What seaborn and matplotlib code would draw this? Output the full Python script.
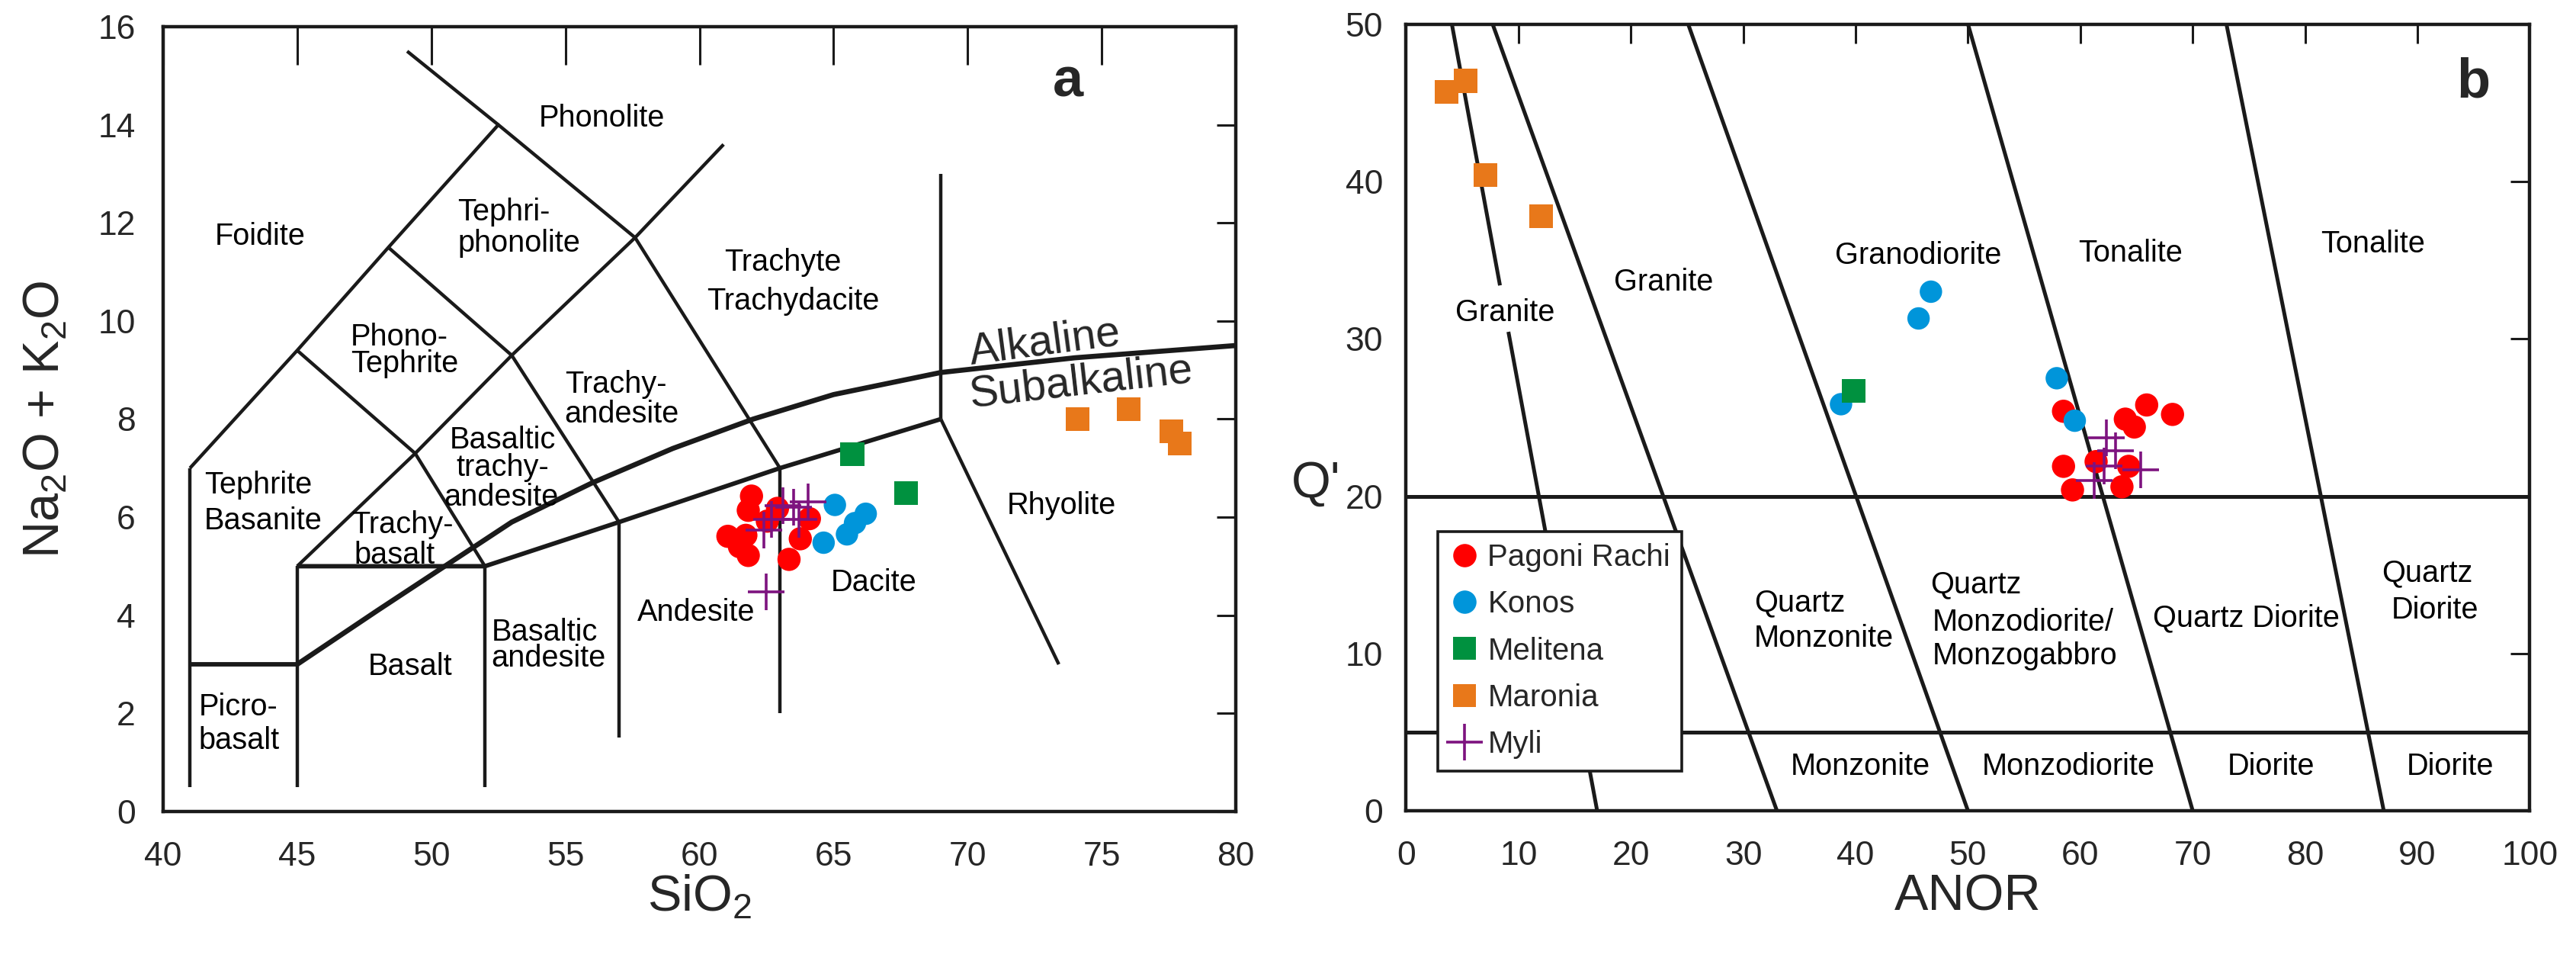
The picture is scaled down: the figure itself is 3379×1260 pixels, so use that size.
import matplotlib
matplotlib.use("Agg")
import matplotlib.pyplot as plt
import matplotlib.transforms as mtransforms
import pandas as pd
import seaborn as sns

sns.set_style("white")
plt.rcParams['font.family'] = ['Liberation Sans', 'DejaVu Sans']
plt.rcParams['mathtext.fontset'] = 'custom'
plt.rcParams['mathtext.rm'] = 'Liberation Sans'
plt.rcParams['mathtext.it'] = 'Liberation Sans:italic'

LINE = '#1a1a1a'

# ---- sample groups ----
groups = ['Pagoni Rachi', 'Konos', 'Melitena', 'Maronia', 'Myli']
colors = {'Pagoni Rachi': '#ff0000', 'Konos': '#0095da', 'Melitena': '#00913f',
          'Maronia': '#e8781a', 'Myli': '#7d137f'}
markers = {'Pagoni Rachi': 'o', 'Konos': 'o', 'Melitena': 's', 'Maronia': 's', 'Myli': '+'}
sizes = {'Pagoni Rachi': 120, 'Konos': 112, 'Melitena': 125, 'Maronia': 125, 'Myli': 290}

# ---- panel a: TAS data (SiO2 vs Na2O+K2O) ----
pagoni_sio2 = [61.94, 61.82, 62.91, 64.10, 61.06, 61.73, 61.82, 63.76, 63.34, 62.53, 61.49]
pagoni_alk = [6.43, 6.14, 6.18, 5.97, 5.61, 5.63, 5.22, 5.56, 5.14, 5.92, 5.40]
konos_sio2 = [65.05, 66.20, 65.80, 65.50, 64.63]
konos_alk = [6.25, 6.07, 5.88, 5.65, 5.48]
melitena_sio2 = [65.70, 67.70]
melitena_alk = [7.28, 6.49]
maronia_sio2 = [74.10, 76.00, 77.60, 77.90]
maronia_alk = [8.00, 8.20, 7.75, 7.50]
myli_sio2 = [62.50, 62.40, 62.70, 63.10, 63.50, 63.70, 64.05]
myli_alk = [4.48, 5.74, 5.95, 6.23, 6.21, 5.95, 6.31]

# ---- panel b: Q' vs ANOR data ----
pagoni_anor = [65.9, 68.2, 64.0, 64.8, 58.5, 58.5, 59.3, 61.4, 64.3, 63.7]
pagoni_q = [25.8, 25.2, 24.9, 24.4, 25.4, 21.9, 20.4, 22.2, 21.9, 20.6]
konos_anor = [46.7, 45.6, 38.7, 57.9, 59.5]
konos_q = [33.0, 31.3, 25.85, 27.5, 24.8]
melitena_anor = [39.8]
melitena_q = [26.7]
maronia_anor = [3.6, 5.3, 7.05, 12.0]
maronia_q = [45.7, 46.4, 40.4, 37.8]
myli_anor = [62.3, 63.1, 62.1, 65.35, 61.2]
myli_q = [23.7, 22.9, 21.9, 21.7, 21.0]

tas = pd.concat([
    pd.DataFrame({'x': pagoni_sio2, 'y': pagoni_alk, 'group': 'Pagoni Rachi'}),
    pd.DataFrame({'x': konos_sio2, 'y': konos_alk, 'group': 'Konos'}),
    pd.DataFrame({'x': melitena_sio2, 'y': melitena_alk, 'group': 'Melitena'}),
    pd.DataFrame({'x': maronia_sio2, 'y': maronia_alk, 'group': 'Maronia'}),
    pd.DataFrame({'x': myli_sio2, 'y': myli_alk, 'group': 'Myli'}),
])
qanor = pd.concat([
    pd.DataFrame({'x': pagoni_anor, 'y': pagoni_q, 'group': 'Pagoni Rachi'}),
    pd.DataFrame({'x': konos_anor, 'y': konos_q, 'group': 'Konos'}),
    pd.DataFrame({'x': melitena_anor, 'y': melitena_q, 'group': 'Melitena'}),
    pd.DataFrame({'x': maronia_anor, 'y': maronia_q, 'group': 'Maronia'}),
    pd.DataFrame({'x': myli_anor, 'y': myli_q, 'group': 'Myli'}),
])

# ---- TAS field boundaries (Le Bas et al.) ----
tas_lines = [
    [(41, 0.5), (41, 7)],
    [(45, 0.5), (45, 5)],
    [(52, 0.5), (52, 5)],
    [(57, 1.5), (57, 5.9)],
    [(63, 2.0), (63, 7)],
    [(69, 8), (69, 13)],
    [(69, 8), (73.4, 3.0)],
    [(41, 7), (45, 9.4), (48.4, 11.5), (52.5, 14), (57.6, 11.7), (63, 7)],
    [(49.1, 15.5), (52.5, 14)],
    [(57.6, 11.7), (60.9, 13.6)],
    [(45, 9.4), (49.4, 7.3), (52, 5)],
    [(48.4, 11.5), (53, 9.3), (57, 5.9)],
    [(45, 5), (49.4, 7.3), (53, 9.3), (57.6, 11.7)],
]
tas_thick = [
    [(41, 3), (45, 3)],
    [(45, 5), (52, 5), (57, 5.9), (63, 7), (69, 8)],
]
# Irvine & Baragar alkaline / subalkaline divide
ib_sio2 = [45, 48, 50.5, 53, 56, 59, 62, 65, 69, 74, 80]
ib_alk = [3.0, 4.1, 5.0, 5.9, 6.7, 7.4, 8.0, 8.5, 8.95, 9.25, 9.5]

# ---- Q'-ANOR field boundaries ----
qa_lines = [
    [(4.07, 50), (8.35, 33.4)],
    [(9.1, 30.45), (17, 0)],
    [(7.7, 50), (33, 0)],
    [(25.1, 50), (50, 0)],
    [(50, 50), (70, 0)],
    [(73, 50), (87, 0)],
]
qa_hlines = [20, 5]

tas_labels = [
    ("Phonolite", 56.35, 14.19), ("Foidite", 43.61, 11.78),
    ("Tephri-", 52.7, 12.27), ("phonolite", 53.28, 11.64),
    ("Phono-", 48.81, 9.72), ("Tephrite", 49.01, 9.17),
    ("Trachyte", 63.11, 11.24), ("Trachydacite", 63.48, 10.45),
    ("Trachy-", 56.89, 8.76), ("andesite", 57.09, 8.15),
    ("Basaltic", 52.67, 7.62), ("trachy-", 52.67, 7.07), ("andesite", 52.61, 6.46),
    ("Tephrite", 43.54, 6.71), ("Basanite", 43.73, 5.98),
    ("Trachy-", 48.93, 5.9), ("basalt", 48.62, 5.27),
    ("Basalt", 49.2, 3.0), ("Basaltic", 54.22, 3.7), ("andesite", 54.38, 3.17),
    ("Andesite", 59.87, 4.11), ("Dacite", 66.49, 4.72), ("Rhyolite", 73.51, 6.28),
    ("Picro-", 42.81, 2.18), ("basalt", 42.83, 1.5),
]
qa_labels = [
    ("Granite", 8.83, 31.82), ("Granite", 22.93, 33.76),
    ("Granodiorite", 45.57, 35.46), ("Tonalite", 64.49, 35.62), ("Tonalite", 86.0, 36.2),
    ("Quartz", 35.05, 13.4), ("Monzonite", 37.15, 11.14),
    ("Quartz", 50.7, 14.54), ("Monzodiorite/", 54.87, 12.16), ("Monzogabbro", 55.05, 10.01),
    ("Quartz Diorite", 74.73, 12.43),
    ("Quartz", 90.87, 15.26), ("Diorite", 91.55, 12.92),
    ("Monzonite", 40.45, 2.98), ("Monzodiorite", 58.97, 2.98),
    ("Diorite", 77.0, 2.98), ("Diorite", 92.9, 2.98),
]

LABEL_FS = 14.3
TICK_FS = 16
AXLABEL_FS = 24

fig, (ax1, ax2) = plt.subplots(1, 2, figsize=(16.9, 6.3), dpi=200)
ax1.set_position([0.0633, 0.1556, 0.4163, 0.8166])
ax2.set_position([0.5457, 0.1562, 0.4361, 0.8186])


def draw_points(ax, df):
    for g in groups:
        sub = df[df['group'] == g]
        kw = dict(data=sub, x='x', y='y', ax=ax, marker=markers[g], color=colors[g],
                  s=sizes[g], label=g, zorder=4 if g == 'Myli' else 3, legend=False)
        if markers[g] == '+':
            kw['linewidth'] = 1.3
        else:
            kw['edgecolor'] = 'none'
        sns.scatterplot(**kw)


def draw_labels(ax, labels):
    # place the centre of the capitals at the given data position
    tr = mtransforms.offset_copy(ax.transData, fig=fig, y=-0.358 * LABEL_FS, units='points')
    for txt, x, y in labels:
        ax.text(x, y, txt, transform=tr, fontsize=LABEL_FS, ha='center', va='baseline',
                color='black', zorder=5)


# ---------------- panel a ----------------
for seg in tas_lines:
    xs, ys = zip(*seg)
    ax1.plot(xs, ys, color=LINE, lw=1.6, zorder=2, solid_capstyle='butt')
for seg in tas_thick:
    xs, ys = zip(*seg)
    ax1.plot(xs, ys, color=LINE, lw=2.1, zorder=2, solid_capstyle='butt')
ax1.plot(ib_sio2, ib_alk, color=LINE, lw=2.4, zorder=2)
draw_points(ax1, tas)
draw_labels(ax1, tas_labels)
ax1.text(72.88, 9.55, "Alkaline", fontsize=20.5, rotation=7.5, ha='center', va='center',
         rotation_mode='anchor', zorder=5)
ax1.text(74.24, 8.74, "Subalkaline", fontsize=20.5, rotation=6.5, ha='center', va='center',
         rotation_mode='anchor', zorder=5)
ax1.text(73.75, 14.87, "a", fontsize=26, fontweight='bold', ha='center', va='center')

ax1.set_xlim(40, 80)
ax1.set_ylim(0, 16)
ax1.set_xticks(range(40, 81, 5))
ax1.set_yticks(range(0, 17, 2))
ax1.tick_params(axis='both', direction='in', top=True, right=True, color=LINE,
                labelsize=TICK_FS, width=1.1)
ax1.tick_params(axis='x', length=18, pad=14)
ax1.tick_params(axis='y', length=9, pad=13)
ax1.set_xlabel('SiO$_\\mathregular{2}$', fontsize=AXLABEL_FS, va='center')
ax1.xaxis.set_label_coords(0.5, -0.11)
ax1.set_ylabel('Na$_\\mathregular{2}$O + K$_\\mathregular{2}$O', fontsize=AXLABEL_FS, va='center')
ax1.yaxis.set_label_coords(-0.109, 0.5)

# ---------------- panel b ----------------
for seg in qa_lines:
    xs, ys = zip(*seg)
    ax2.plot(xs, ys, color=LINE, lw=1.8, zorder=2, solid_capstyle='butt')
for h in qa_hlines:
    ax2.plot([0, 100], [h, h], color=LINE, lw=1.8, zorder=2)
draw_points(ax2, qanor)
draw_labels(ax2, qa_labels)
ax2.text(95.0, 46.3, "b", fontsize=26, fontweight='bold', ha='center', va='center')

ax2.set_xlim(0, 100)
ax2.set_ylim(0, 50)
ax2.set_xticks(range(0, 101, 10))
ax2.set_yticks(range(0, 51, 10))
ax2.tick_params(axis='both', direction='in', top=True, right=True, color=LINE,
                labelsize=TICK_FS, width=1.1, length=9)
ax2.tick_params(axis='x', pad=14)
ax2.tick_params(axis='y', pad=11)
ax2.set_xlabel('ANOR', fontsize=AXLABEL_FS, va='center')
ax2.xaxis.set_label_coords(0.5, -0.11)
ax2.set_ylabel("Q'", fontsize=AXLABEL_FS, rotation=0, va='center', ha='center')
ax2.yaxis.set_label_coords(-0.08, 0.415)

handles = [plt.Line2D([], [], ls='none', marker=markers[g], color=colors[g],
                      markeredgewidth=1.3 if g == 'Myli' else 0,
                      markersize=17 if g == 'Myli' else 11) for g in groups]
leg = ax2.legend(handles, groups, loc='lower left', bbox_to_anchor=(0.028, 0.051),
                 borderaxespad=0, frameon=True, fancybox=False, edgecolor=LINE,
                 framealpha=1, fontsize=14.5, handlelength=1.0, handletextpad=0.25,
                 labelspacing=0.58, borderpad=0.38)
leg.get_frame().set_linewidth(1.3)
leg.set_zorder(6)

for ax in (ax1, ax2):
    for sp in ax.spines.values():
        sp.set_color(LINE)
        sp.set_linewidth(1.6)

fig.savefig("out.png", dpi=200)
